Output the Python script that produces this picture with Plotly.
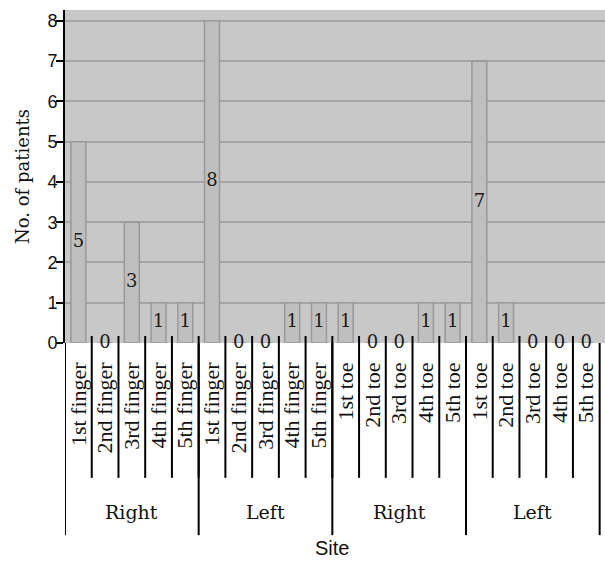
import plotly.graph_objects as go

groups = ["Right", "Left", "Right", "Left"]
finger_names = ["1st finger", "2nd finger", "3rd finger", "4th finger", "5th finger"]
toe_names = ["1st toe", "2nd toe", "3rd toe", "4th toe", "5th toe"]
right_fingers = [5, 0, 3, 1, 1]
left_fingers = [8, 0, 0, 1, 1]
right_toes = [1, 0, 0, 1, 1]
left_toes = [7, 1, 0, 0, 0]
y_ticks = [0, 1, 2, 3, 4, 5, 6, 7, 8]

sites = finger_names + finger_names + toe_names + toe_names
values = right_fingers + left_fingers + right_toes + left_toes
group_sizes = [len(right_fingers), len(left_fingers), len(right_toes), len(left_toes)]
xpos = list(range(len(values)))

serif = "DejaVu Serif"
serif2 = "Liberation Serif"
sans = "Liberation Sans"

fig = go.Figure()
fig.add_trace(go.Bar(
    x=xpos, y=values,
    marker=dict(color="#bfbfbf", line=dict(color="#999999", width=1.5)),
    showlegend=False, hoverinfo="skip",
))
fig.add_trace(go.Scatter(
    x=xpos, y=[v / 2 for v in values],
    mode="text", text=[str(v) for v in values],
    textfont=dict(family=serif, size=18, color="#1a1a1a"),
    cliponaxis=False, showlegend=False, hoverinfo="skip",
))

# separators between site labels
for i in range(len(values) - 1):
    fig.add_shape(type="line", xref="x", yref="paper",
                  x0=i + 0.5, x1=i + 0.5, y0=0.021, y1=-0.405,
                  line=dict(color="black", width=2))
# group dividers and group labels
start = 0
bounds = [-0.5]
for g, n in zip(groups, group_sizes):
    fig.add_annotation(x=start + (n - 1) / 2, y=-0.5075, xref="x", yref="paper",
                       yanchor="middle", xanchor="center",
                       text=g, showarrow=False,
                       font=dict(family=serif, size=19, color="#111"))
    start += n
    bounds.append(start - 0.5)
for b in bounds:
    fig.add_shape(type="line", xref="x", yref="paper",
                  x0=b, x1=b, y0=0, y1=-0.577,
                  line=dict(color="black", width=2))
fig.add_annotation(x=(len(values) - 1) / 2, y=-0.616, xref="x", yref="paper",
                   yanchor="middle", xanchor="center",
                   text="Site", showarrow=False,
                   font=dict(family=sans, size=20, color="#111"))

fig.update_layout(
    width=605, height=561,
    margin=dict(l=65, r=0, t=10, b=218),
    paper_bgcolor="white", plot_bgcolor="#c8c8c8",
    bargap=0.44,
    xaxis=dict(
        range=[-0.5, 19.7],
        tickmode="array", tickvals=xpos, ticktext=sites,
        tickangle=-90,
        tickfont=dict(family=serif2, size=22, color="#111"),
        ticks="", ticklabelstandoff=14,
        showgrid=False, showline=False, zeroline=False,
    ),
    yaxis=dict(
        range=[0, 8.27],
        tickvals=y_ticks,
        tickfont=dict(family=sans, size=18, color="#111"),
        ticks="outside", ticklen=7, tickwidth=2, tickcolor="black",
        ticklabelstandoff=-5,
        showline=True, linecolor="black", linewidth=2,
        gridcolor="#a4a4a4", gridwidth=2,
        zeroline=False,
        title=dict(text="No. of patients", font=dict(family=serif, size=18, color="#111"), standoff=13),
    ),
)

fig.write_html("out.html")
